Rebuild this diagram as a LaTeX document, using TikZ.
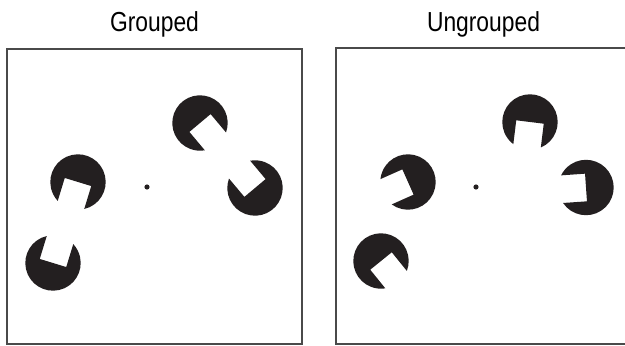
\documentclass[tikz,border=0pt]{standalone}
\usepackage{fontspec}
\newfontfamily\titlefont[FakeStretch=0.83]{Liberation Sans}
\usetikzlibrary{calc}
\definecolor{inkblack}{HTML}{231f20}
\definecolor{framegray}{HTML}{4a4a4a}
\tikzset{
	% ------- every something
	every picture/.style={
		x=1pt, y=1pt,
	},
	every node/.style={
		font=\titlefont\fontsize{27.5}{30}\selectfont,
	},
	% ------- custom
	frame/.style={
		line width=1.4pt,
		framegray,
	},
	title/.style={
		anchor=base,
		inner sep=0pt,
	},
	fixation/.style={
		fill=inkblack,
	},
	inducer/.pic={
		\fill[inkblack] (0,13.85) -- (30:27.7)
			arc[start angle=30, end angle=330, radius=27.7]
			-- (0,-13.85) -- cycle;
	},
}
\begin{document}
\begin{tikzpicture}

% bounding box %{{{1

	\useasboundingbox (0,0) rectangle (625,346);
	\clip (0,0) rectangle (625,346);

% coordinates %{{{1

	% grouped
	\coordinate (gT) at (200,223);
	\coordinate (gR) at (255,158);
	\coordinate (gL) at (78,164);
	\coordinate (gB) at (53,83);
	\coordinate (gF) at (147,159);

	% ungrouped
	\coordinate (uT) at (530,224);
	\coordinate (uR) at (586,158.5);
	\coordinate (uL) at (408,164);
	\coordinate (uB) at (381,85);
	\coordinate (uF) at (476,159);

% frames %{{{1

	\draw[frame] (7,2) rectangle (302,297);
	\draw[frame] (336,2) rectangle (631,298);

% titles %{{{1

	\node[title] (gtitle) at (154.5,314) {Grouped};
	\node[title] (utitle) at (483.5,314) {Ungrouped};

% inducers %{{{1

	\pic[rotate=-50] at (gT) {inducer};
	\pic[rotate=130] at (gR) {inducer};
	\pic[rotate=-107] at (gL) {inducer};
	\pic[rotate=73] at (gB) {inducer};

	\pic[rotate=-97] at (uT) {inducer};
	\pic[rotate=184] at (uR) {inducer};
	\pic[rotate=204] at (uL) {inducer};
	\pic[rotate=-51] at (uB) {inducer};

% fixation dots %{{{1

	\fill[fixation] (gF) circle (2.6);
	\fill[fixation] (uF) circle (2.6);

% closing %{{{1

\end{tikzpicture}
\end{document}
